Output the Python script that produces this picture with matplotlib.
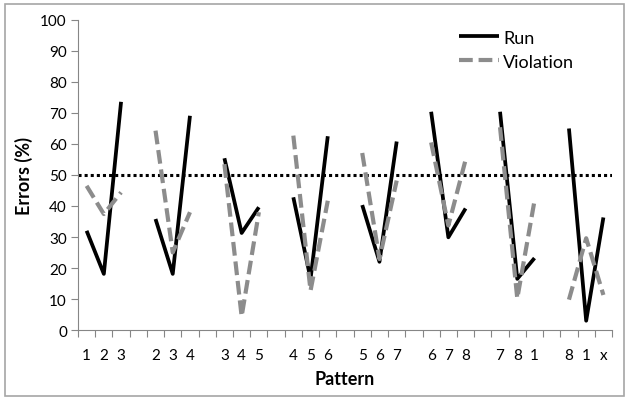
import numpy as np
import matplotlib
matplotlib.use("Agg")
import matplotlib.pyplot as plt
from matplotlib.patches import Rectangle

plt.rcParams['font.family'] = ['Lato', 'DejaVu Sans']

groups = [["1", "2", "3"], ["2", "3", "4"], ["3", "4", "5"], ["4", "5", "6"],
          ["5", "6", "7"], ["6", "7", "8"], ["7", "8", "1"], ["8", "1", "x"]]
run = [[32.0, 18.1, 73.6], [35.8, 18.1, 69.1], [55.4, 31.3, 39.6], [42.8, 16.5, 62.5],
       [40.3, 22.0, 60.8], [70.4, 29.9, 39.2], [70.4, 16.5, 23.2], [65.0, 3.0, 36.3]]
violation = [[46.5, 37.4, 44.4], [64.3, 25.0, 38.0], [53.5, 4.4, 38.0], [62.7, 12.7, 41.7],
             [57.1, 22.9, 48.2], [60.5, 33.7, 54.9], [65.4, 10.2, 41.7], [9.8, 29.6, 11.3]]
chance_level = 50

# build category sequence with blank gaps between groups
labels, run_vals, vio_vals = [], [], []
for gi, (g, r, v) in enumerate(zip(groups, run, violation)):
    if gi > 0:
        labels.append("")
        run_vals.append(np.nan)
        vio_vals.append(np.nan)
    labels.extend(g)
    run_vals.extend(r)
    vio_vals.extend(v)
x = np.arange(1, len(labels) + 1)

fig = plt.figure(figsize=(6.29, 4.02), dpi=100)
ax = fig.add_axes([0.124, 0.1766, 0.849, 0.7712])

ax.plot(x, run_vals, color='black', lw=2.7, solid_capstyle='butt', label='Run')
ax.plot(x, vio_vals, color='#8c8c8c', lw=3.0, linestyle=(0, (3.3, 1.4)),
        dash_capstyle='butt', label='Violation')
ax.axhline(chance_level, color='black', lw=2.2, linestyle=(0, (1, 1)), zorder=1)

ax.set_xlim(0.5, len(labels) + 0.5)
ax.set_ylim(0, 100)
ax.set_yticks(np.arange(0, 101, 10))
ax.set_xticks(x)
ax.set_xticklabels(labels)
ax.set_xticks(np.arange(0.5, len(labels) + 1.0, 1.0), minor=True)
ax.tick_params(axis='x', which='major', length=0, pad=13, labelsize=11)
ax.tick_params(axis='x', which='minor', length=5, color='#868686', width=0.8, direction='out')
ax.tick_params(axis='y', length=5, color='#868686', width=0.8, labelsize=11, pad=3)

for s in ['top', 'right']:
    ax.spines[s].set_visible(False)
for s in ['left', 'bottom']:
    ax.spines[s].set_color('#868686')
    ax.spines[s].set_linewidth(0.8)

ax.set_ylabel('Errors (%)', fontsize=13, fontweight='bold', labelpad=5)
ax.set_xlabel('Pattern', fontsize=13, fontweight='bold', labelpad=6)

ax.legend(loc='upper left', bbox_to_anchor=(0.69, 1.01), frameon=False,
          fontsize=13, handlelength=2.2, handletextpad=0.25, labelspacing=0.45,
          borderaxespad=0.3)

fig.patches.append(Rectangle((5 / 629, 5 / 402), 619 / 629, 392 / 402,
                             transform=fig.transFigure, fill=False,
                             edgecolor='#a6a6a6', lw=1.2))

fig.savefig('out.png', dpi=100)
